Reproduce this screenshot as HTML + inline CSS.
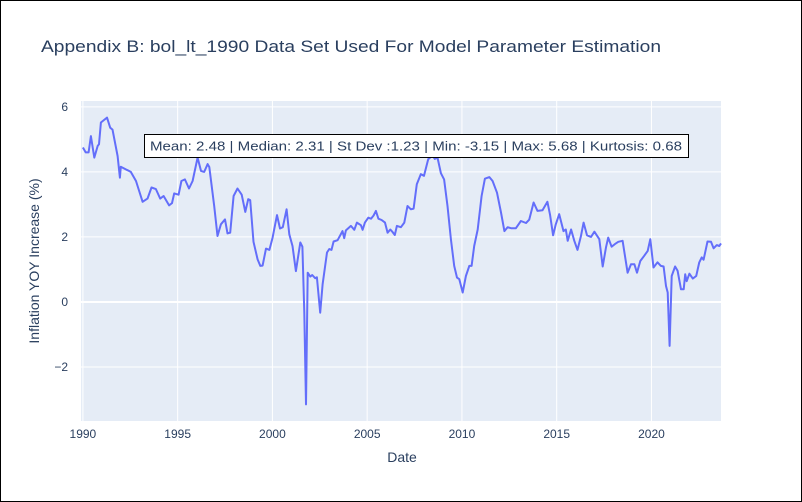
<!DOCTYPE html>
<html><head><meta charset="utf-8"><style>
body{margin:0;background:#fff;}
#wrap{position:relative;width:800px;height:500px;border:1px solid #000;overflow:hidden;font-family:"Liberation Sans",Arial,sans-serif;}
svg text{font-family:"Liberation Sans",Arial,sans-serif;fill:#2a3f5f;}
</style></head><body>
<div id="wrap">
<svg id="chart" width="800" height="500">
<text x="40" y="51" font-size="17" textLength="620" lengthAdjust="spacingAndGlyphs">Appendix B: bol_lt_1990 Data Set Used For Model Parameter Estimation</text>
<rect x="80" y="100" width="640" height="320" fill="#e5ecf6"/>
<g id="grid"></g>
<g id="ticks"></g>
<path id="line" fill="none" stroke="#636efa" stroke-width="2" stroke-linejoin="round"/>
<text x="401" y="461" font-size="14" text-anchor="middle">Date</text>
<text transform="translate(38,260) rotate(-90)" font-size="14" text-anchor="middle">Inflation YOY Increase (%)</text>
<rect x="143.5" y="133.5" width="544" height="23" fill="#fff" stroke="#000" stroke-width="1"/>
<text x="149" y="149.5" font-size="12.5" textLength="532" lengthAdjust="spacingAndGlyphs">Mean: 2.48 | Median: 2.31 | St Dev :1.23 | Min: -3.15 | Max: 5.68 | Kurtosis: 0.68</text>
</svg>
</div>
<script>
const dates=[1990.0,1990.15,1990.3,1990.42,1990.6,1990.78,1990.85,1990.95,1991.27,1991.44,1991.56,1991.83,1991.95,1992.0,1992.53,1992.8,1993.15,1993.41,1993.62,1993.85,1994.08,1994.26,1994.55,1994.7,1994.82,1995.05,1995.2,1995.38,1995.6,1995.79,1996.05,1996.23,1996.4,1996.58,1996.67,1996.93,1997.1,1997.28,1997.5,1997.63,1997.77,1997.95,1998.16,1998.38,1998.57,1998.72,1998.83,1999.0,1999.22,1999.36,1999.48,1999.66,1999.84,2000.01,2000.24,2000.4,2000.55,2000.75,2000.89,2001.06,2001.24,2001.47,2001.58,2001.68,2001.77,2001.86,2002.0,2002.1,2002.26,2002.35,2002.52,2002.65,2002.88,2003.0,2003.12,2003.23,2003.44,2003.7,2003.79,2003.88,2004.14,2004.32,2004.46,2004.67,2004.76,2004.88,2005.06,2005.2,2005.34,2005.46,2005.59,2005.76,2005.94,2006.08,2006.22,2006.34,2006.46,2006.57,2006.78,2006.96,2007.13,2007.31,2007.45,2007.62,2007.83,2008.0,2008.22,2008.45,2008.57,2008.71,2008.89,2009.06,2009.24,2009.42,2009.59,2009.74,2009.86,2010.04,2010.21,2010.39,2010.51,2010.65,2010.83,2011.04,2011.21,2011.45,2011.62,2011.85,2012.06,2012.24,2012.41,2012.59,2012.85,2013.11,2013.38,2013.55,2013.78,2013.99,2014.25,2014.51,2014.65,2014.81,2014.95,2015.13,2015.36,2015.48,2015.58,2015.76,2015.93,2016.1,2016.28,2016.42,2016.6,2016.81,2016.99,2017.25,2017.43,2017.6,2017.72,2017.9,2018.07,2018.25,2018.48,2018.74,2018.92,2019.1,2019.24,2019.41,2019.62,2019.8,2019.94,2020.11,2020.32,2020.5,2020.64,2020.77,2020.86,2020.96,2021.07,2021.25,2021.38,2021.56,2021.7,2021.78,2021.86,2022.0,2022.18,2022.36,2022.52,2022.65,2022.75,2022.96,2023.14,2023.28,2023.45,2023.58,2023.7];
const values=[4.75,4.6,4.6,5.1,4.44,4.8,4.85,5.52,5.67,5.36,5.3,4.49,3.82,4.16,4.0,3.72,3.08,3.18,3.52,3.47,3.18,3.26,2.97,3.04,3.34,3.3,3.72,3.77,3.49,3.72,4.44,4.03,4.0,4.24,4.15,2.95,2.03,2.39,2.54,2.11,2.13,3.26,3.49,3.3,2.77,3.16,3.13,1.85,1.31,1.11,1.12,1.64,1.6,1.98,2.67,2.26,2.3,2.85,2.08,1.72,0.95,1.83,1.7,-0.33,-3.15,0.9,0.78,0.83,0.73,0.76,-0.33,0.54,1.52,1.63,1.6,1.86,1.9,2.18,1.96,2.2,2.34,2.22,2.44,2.36,2.22,2.44,2.59,2.56,2.66,2.8,2.56,2.52,2.44,2.13,2.23,2.15,2.06,2.34,2.3,2.44,2.95,2.85,2.87,3.62,3.93,3.88,4.39,4.5,4.4,4.44,3.96,3.77,2.95,1.93,1.11,0.75,0.7,0.29,0.8,1.11,1.11,1.72,2.23,3.26,3.79,3.84,3.72,3.36,2.75,2.18,2.3,2.27,2.27,2.49,2.43,2.53,3.06,2.8,2.82,3.08,2.67,2.05,2.38,2.7,2.18,2.23,1.88,2.23,1.88,1.6,2.02,2.44,2.05,2.0,2.16,1.93,1.09,1.68,1.98,1.7,1.78,1.85,1.88,0.9,1.16,1.16,0.9,1.26,1.42,1.57,1.93,1.06,1.22,1.11,1.09,0.49,0.29,-1.35,0.8,1.09,0.96,0.39,0.39,0.85,0.64,0.87,0.72,0.8,1.21,1.37,1.3,1.86,1.85,1.65,1.75,1.72,1.8];
const xTicks=[1990,1995,2000,2005,2010,2015,2020];
const yTicks=[-2,0,2,4,6];
const yTickLabels=["\u22122","0","2","4","6"];
const X0=80,X1=720,Y0=100,Y1=420,xMin=1989.9,xMax=2023.67,yMin=-3.66,yMax=6.18;
function xs(v){return X0+(v-xMin)/(xMax-xMin)*(X1-X0);}
function ys(v){return Y1-(v-yMin)/(yMax-yMin)*(Y1-Y0);}
const NS="http://www.w3.org/2000/svg";
const grid=document.getElementById('grid'),ticks=document.getElementById('ticks');
xTicks.forEach(t=>{
 const l=document.createElementNS(NS,'line');
 l.setAttribute('x1',xs(t));l.setAttribute('x2',xs(t));l.setAttribute('y1',Y0);l.setAttribute('y2',Y1);
 l.setAttribute('stroke','#fff');l.setAttribute('stroke-width','1');
 
 
 grid.appendChild(l);
 const tx=document.createElementNS(NS,'text');
 tx.setAttribute('x',xs(t));tx.setAttribute('y',Y1+17);tx.setAttribute('font-size','12');tx.setAttribute('text-anchor','middle');
 tx.textContent=t;
 
 
 ticks.appendChild(tx);
});
yTicks.forEach((t,i)=>{
 const l=document.createElementNS(NS,'line');
 l.setAttribute('x1',X0);l.setAttribute('x2',X1);l.setAttribute('y1',ys(t));l.setAttribute('y2',ys(t));
 l.setAttribute('stroke','#fff');l.setAttribute('stroke-width',t===0?'2':'1');
 
 
 grid.appendChild(l);
 const tx=document.createElementNS(NS,'text');
 tx.setAttribute('x',X0-13);tx.setAttribute('y',ys(t)+4);tx.setAttribute('font-size','12');tx.setAttribute('text-anchor','end');
 tx.textContent=yTickLabels[i];
 
 
 ticks.appendChild(tx);
});
let d='';
dates.forEach((t,i)=>{d+=(i?'L':'M')+Math.min(xs(t),X1).toFixed(1)+','+ys(values[i]).toFixed(1);});
document.getElementById('line').setAttribute('d',d);
</script>
</body></html>
